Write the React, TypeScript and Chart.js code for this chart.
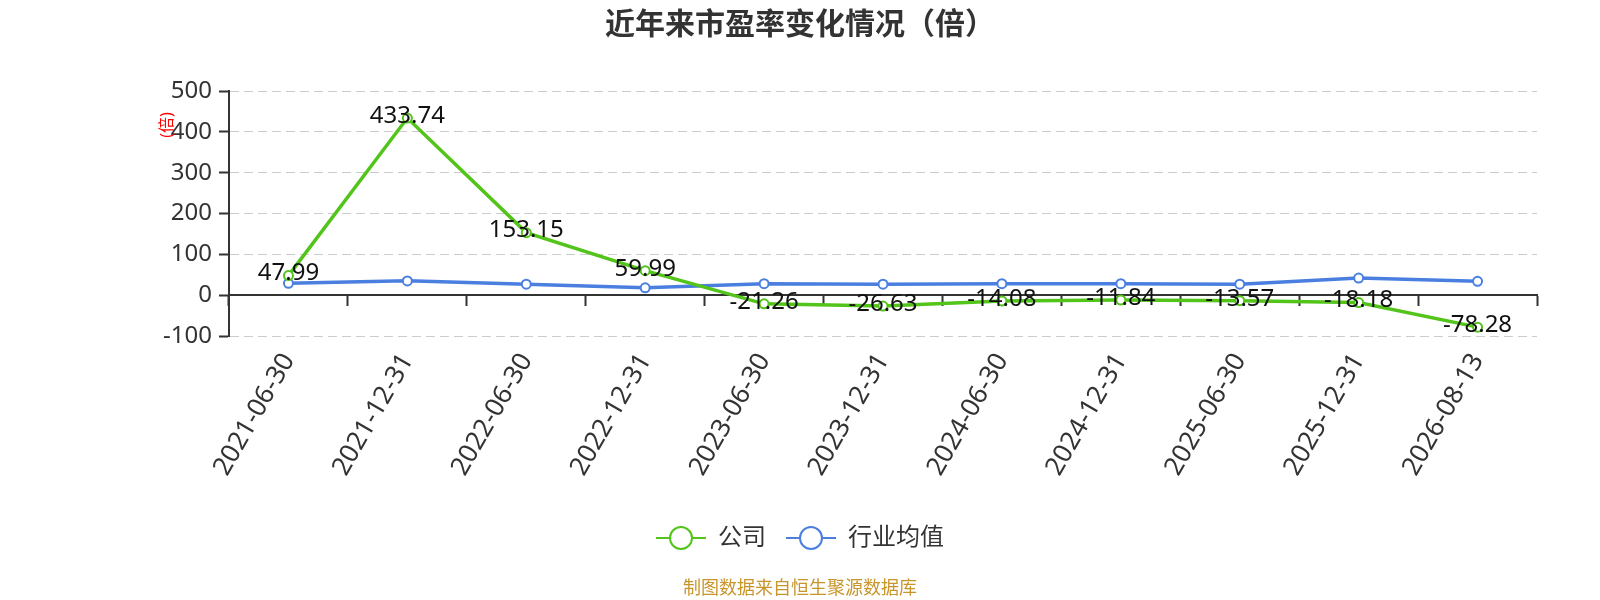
import { useEffect, useRef } from 'react'
import { Chart, registerables } from 'chart.js'

Chart.register(...registerables)

const categories = [
  '2021-06-30',
  '2021-12-31',
  '2022-06-30',
  '2022-12-31',
  '2023-06-30',
  '2023-12-31',
  '2024-06-30',
  '2024-12-31',
  '2025-06-30',
  '2025-12-31',
  '2026-08-13',
]
const companyPE = [47.99, 433.74, 153.15, 59.99, -21.26, -26.63, -14.08, -11.84, -13.57, -18.18, -78.28]
const industryPE = [29, 35, 27, 18, 28, 27, 28, 28, 27, 42, 34]
const seriesNames = ['公司', '行业均值']
const yMin = -100
const yMax = 500
const yStep = 100

const GREEN = '#52c41a'
const BLUE = '#4a7fe0'
const FONT = '"Noto Sans", "Noto Sans CJK SC", sans-serif'

// line + hollow circle, like the legend marks in the picture
function legendIcon(color: string) {
  const c = document.createElement('canvas')
  c.width = 50
  c.height = 26
  const g = c.getContext('2d')!
  g.strokeStyle = color
  g.lineWidth = 2
  g.beginPath()
  g.moveTo(0, 13)
  g.lineTo(50, 13)
  g.stroke()
  g.beginPath()
  g.arc(25, 13, 11, 0, Math.PI * 2)
  g.fillStyle = '#fff'
  g.fill()
  g.stroke()
  return c
}

const extras = {
  id: 'extras',
  afterDatasetsDraw(chart: any) {
    const { ctx } = chart
    const meta = chart.getDatasetMeta(0)
    ctx.save()
    ctx.font = `24px ${FONT}`
    ctx.fillStyle = '#111'
    ctx.textAlign = 'center'
    ctx.textBaseline = 'middle'
    meta.data.forEach((pt: any, i: number) => {
      ctx.fillText(companyPE[i].toFixed(2), pt.x, pt.y - 2)
    })
    ctx.restore()
  },
  afterDraw(chart: any) {
    const { ctx } = chart
    ctx.save()
    // y axis unit
    ctx.translate(167, 125)
    ctx.rotate(-Math.PI / 2)
    ctx.font = `16px ${FONT}`
    ctx.fillStyle = '#ff0000'
    ctx.textAlign = 'center'
    ctx.textBaseline = 'middle'
    ctx.fillText('(倍)', 0, 0)
    ctx.restore()

    ctx.save()
    ctx.font = `18px ${FONT}`
    ctx.fillStyle = '#c8952b'
    ctx.textAlign = 'center'
    ctx.textBaseline = 'middle'
    ctx.fillText('制图数据来自恒生聚源数据库', chart.width / 2, 589)
    ctx.restore()
  },
}

export default function App() {
  const canvasRef = useRef<HTMLCanvasElement>(null)

  useEffect(() => {
    document.body.style.margin = '0'
    if (!canvasRef.current) return
    const icons = [legendIcon(GREEN), legendIcon(BLUE)]

    const chart = new Chart(canvasRef.current, {
      type: 'line',
      data: {
        labels: categories,
        datasets: [
          {
            label: seriesNames[0],
            data: companyPE,
            borderColor: GREEN,
            backgroundColor: '#fff',
            borderWidth: 3.5,
            pointRadius: 4.5,
            pointBorderWidth: 2,
            pointBackgroundColor: '#fff',
            pointBorderColor: GREEN,
            tension: 0,
          },
          {
            label: seriesNames[1],
            data: industryPE,
            borderColor: BLUE,
            backgroundColor: '#fff',
            borderWidth: 3.5,
            pointRadius: 4.5,
            pointBorderWidth: 2,
            pointBackgroundColor: '#fff',
            pointBorderColor: BLUE,
            tension: 0,
          },
        ],
      },
      options: {
        responsive: false,
        animation: false,
        layout: { padding: { left: 0, right: 0, top: 0, bottom: 40 } },
        font: { family: FONT },
        scales: {
          x: {
            type: 'category',
            offset: true,
            grid: { display: false, drawTicks: false },
            border: { display: false },
            ticks: {
              autoSkip: false,
              minRotation: 60,
              maxRotation: 60,
              padding: 12,
              color: '#333',
              font: { size: 26, family: FONT },
            },
            afterFit: (s: any) => {
              s.height = 170
            },
          },
          // axis line through zero with its tick marks
          x2: {
            type: 'category',
            position: { y: 0 } as any,
            offset: true,
            grid: {
              display: true,
              drawOnChartArea: false,
              drawTicks: true,
              tickLength: 10,
              tickWidth: 2,
              tickColor: '#333',
              offset: true,
            },
            border: { display: true, color: '#333', width: 2 },
            ticks: { display: false },
          },
          y: {
            min: yMin,
            max: yMax,
            ticks: {
              stepSize: yStep,
              padding: 7,
              color: '#333',
              font: { size: 24, family: FONT },
            },
            grid: {
              color: (c: any) => (c.tick && c.tick.value === 0 ? 'rgba(0,0,0,0)' : '#cccccc'),
              tickColor: '#333',
              tickLength: 10,
              tickWidth: 2,
              tickBorderDash: [],
            },
            border: { display: true, color: '#333', width: 2, dash: [9, 5] },
            afterFit: (s: any) => {
              s.width = 229
            },
          },
          y2: {
            type: 'linear',
            position: 'right',
            display: true,
            grid: { display: false, drawTicks: false },
            border: { display: false },
            ticks: { display: false },
            afterFit: (s: any) => {
              s.width = 63
            },
          },
        },
        plugins: {
          title: {
            display: true,
            text: '近年来市盈率变化情况（倍）',
            color: '#333',
            font: { size: 30, weight: 'bold', family: FONT },
            padding: { top: 7, bottom: 48 },
          },
          legend: {
            position: 'bottom',
            labels: {
              usePointStyle: true,
              pointStyleWidth: 50,
              padding: 20,
              color: '#333',
              font: { size: 24, family: FONT },
              generateLabels: (c: any) =>
                Chart.defaults.plugins.legend.labels
                  .generateLabels(c)
                  .map((l: any, i: number) => ({ ...l, pointStyle: icons[i] })),
            },
          },
          tooltip: { enabled: false },
        },
      },
      plugins: [extras],
    })

    return () => {
      chart.destroy()
    }
  }, [])

  return (
    <div style={{ width: 1600, height: 600 }}>
      <canvas ref={canvasRef} width={1600} height={600} />
    </div>
  )
}
